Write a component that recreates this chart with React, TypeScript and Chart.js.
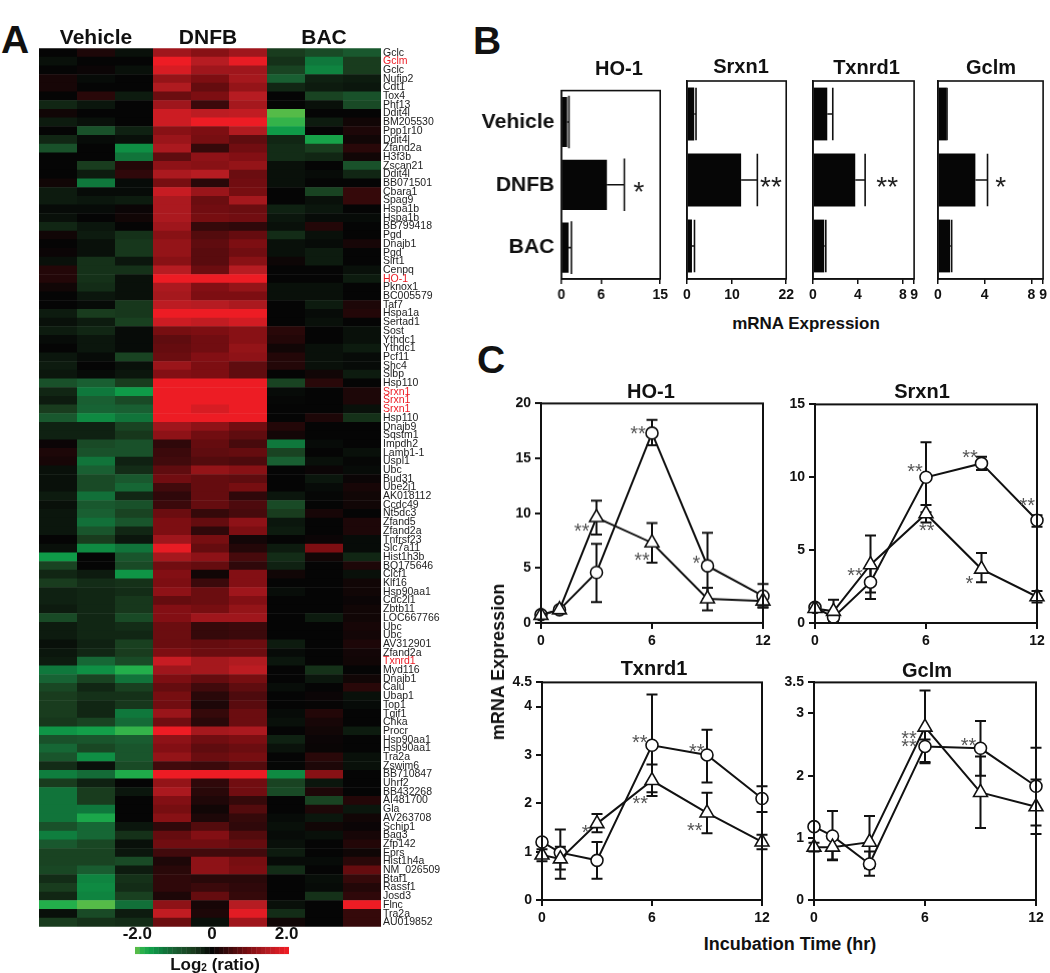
import React, { useEffect, useRef } from "react";
import { Chart, registerables } from "chart.js";

Chart.register(...registerables);

const FONT = '"Liberation Sans", Arial, sans-serif';

// ---------- Panel A ----------
const geneLabels = [
  "Gclc","Gclm","Gclc","Nufip2","Cdt1","Tox4","Phf13","Ddit4l","BM205530","Ppp1r10","Ddit4l","Zfand2a","H3f3b","Zscan21","Ddit4l","BB071501","Cbara1","Spag9","Hspa1b","Hspa1b","BB799418","Pgd","Dnajb1","Pgd","Sirt1","Cenpq","HO-1","Pknox1","BC005579","Taf7","Hspa1a","Sertad1","Sost","Ythdc1","Ythdc1","Pcf11","Shc4","Slbp","Hsp110","Srxn1","Srxn1","Srxn1","Hsp110","Dnajb9","Sqstm1","Impdh2","Lamb1-1","Uspl1","Ubc","Bud31","Ube2j1","AK018112","Ccdc49","Nt5dc3","Zfand5","Zfand2a","Tnfrsf23","Slc7a11","Hist1h3b","BQ175646","Clcf1","Klf16","Hsp90aa1","Cdc2l1","Zbtb11","LOC667766","Ubc","Ubc","AV312901","Zfand2a","Txnrd1","Myd116","Dnajb1","Calu","Ubap1","Top1","Tgif1","Chka","Procr","Hsp90aa1","Hsp90aa1","Tra2a","Zswim6","BB710847","Uhrf2","BB432268","AI481700","Gla","AV263708","Schip1","Bag3","Zfp142","Eprs","Hist1h4a","NM_026509","Btaf1","Rassf1","Josd3","Flnc","Tra2a","AU019852",
];
const highlightedGenes = ["Gclm", "HO-1", "Srxn1", "Txnrd1"];
const sampleNames = ["Vehicle 1","Vehicle 2","Vehicle 3","DNFB 1","DNFB 2","DNFB 3","BAC 1","BAC 2","BAC 3"];
const heatValues = [
  [0,.2,-.1,1.3,1.1,1.3,-.5,-.7,-.9],
  [-.1,0,0,2,1.5,1.95,-.4,-1.3,-.5],
  [0,.05,-.1,1.8,1.3,1.3,-.6,-1.4,-.5],
  [.15,-.05,0,1.2,1,1.35,-1,-.25,-.2],
  [.15,0,0,1.45,.8,1.2,-.3,-.2,-.15],
  [0,.3,-.2,.85,1,1.5,0,-.6,-.8],
  [-.3,-.15,0,1.3,.45,1.35,0,-.1,-.7],
  [.1,0,0,1.7,1.55,1.6,-2,0,0],
  [-.2,-.1,0,1.7,2,2,-1.9,-.2,.1],
  [0,-.8,-.25,1.1,1,1.45,-1.6,0,.2],
  [-.3,-.05,-.1,1.25,.95,.75,-.3,-1.7,.1],
  [-.8,0,-1.5,1.4,.4,.9,-.35,-.5,.3],
  [0,0,-1.25,.75,1.15,1.05,-.35,-.3,.1],
  [0,-.5,.25,1.15,1.1,1.2,-.1,0,-.8],
  [0,-.2,.35,1.4,1.5,.85,-.1,-.05,-.3],
  [.1,-1.3,-.05,.95,.3,.9,-.1,0,0],
  [-.2,-.05,-.05,1.65,1.25,.95,0,-.6,.4],
  [-.2,-.15,-.2,1.4,.85,1.35,0,-.1,.4],
  [-.05,-.05,.05,1.4,.9,.85,-.25,-.15,0],
  [-.1,0,.1,1.4,.95,.9,-.15,-.05,-.05],
  [-.3,-.15,0,1.3,.4,.35,-.1,.25,0],
  [.1,-.2,-.4,1.1,.65,.8,-.35,-.1,0],
  [0,-.1,-.45,1.2,.75,1,-.1,-.05,.15],
  [.05,-.1,-.45,1.2,.7,.9,-.1,-.2,0],
  [-.1,-.4,-.15,1.1,.7,1.1,.07,-.2,0],
  [.25,-.4,-.4,1.5,.85,1.5,0,0,-.1],
  [.25,-.4,-.1,2,2,2,0,0,-.2],
  [.1,-.35,-.1,1.4,1.05,1.2,-.1,-.1,0],
  [0,-.15,-.1,1.35,1,1,-.1,-.1,0],
  [0,-.05,-.45,1.55,1.5,1.4,0,-.2,.2],
  [-.2,-.5,-.45,2,2,2,0,-.05,.25],
  [-.1,-.2,-.55,1.7,1.6,1.75,0,-.1,0],
  [-.2,-.3,-.05,.95,1,1.1,.3,0,-.1],
  [-.05,-.15,-.05,.75,.9,1.1,.25,0,-.1],
  [0,-.15,-.05,.8,.9,1.2,.1,-.1,-.2],
  [-.15,-.05,-.6,.85,1.05,1.15,.25,-.1,-.05],
  [-.2,0,-.1,1.25,1,.75,.25,-.1,-.05],
  [-.15,-.05,-.15,1.05,1,.75,0,.1,-.2],
  [-.8,-1,-.5,2,2,2,-.6,.3,0],
  [-.3,-1.3,-1.6,2,2,2,-.05,0,.2],
  [-.2,-1,-.7,2,2,2,-.02,0,.2],
  [-.5,-1.05,-1,2,1.8,2,0,0,-.1],
  [-.9,-1.45,-1.25,2,2,2,0,.2,-.4],
  [-.25,-.25,-.6,1.3,1.15,.9,.25,0,0],
  [-.25,-.25,-.45,1.15,.9,.75,.12,0,0],
  [.05,-.7,-.8,.35,.8,.55,-1.3,-.05,0],
  [.2,-.8,-.8,.45,.75,.8,-.6,0,-.1],
  [.15,-1.25,-.25,.5,.65,.6,-1,-.1,-.02],
  [-.1,-1,-.35,.75,1.2,1.1,0,.05,-.05],
  [-.1,-.7,-.9,.9,.8,.75,0,-.15,.05],
  [-.1,-.7,-1.1,.5,.8,.95,0,-.05,.15],
  [-.2,-1.2,-.3,.35,.8,.35,-.15,-.02,.1],
  [-.1,-.9,-.8,.45,.8,.6,-.7,0,.1],
  [-.15,-1,-.6,.85,.4,.55,-.5,.15,0],
  [-.15,-1.2,-.85,1,.8,1.15,-.15,0,.2],
  [-.15,-.85,-.3,1,.35,1,-.2,0,.2],
  [0,-.5,-.15,1.3,.95,.12,0,.05,-.05],
  [-.1,-1.45,-1.25,1.95,.8,.25,-.2,1,-.05],
  [-1.6,0,-.85,1.35,1.15,.55,-.35,.1,-.3],
  [-.6,0,-.7,.9,.8,.35,-.25,0,.2],
  [-.3,-.2,-1.55,1.05,.1,1.05,.1,0,-.1],
  [-.5,-.35,-.4,1,.45,1.05,0,0,.1],
  [-.25,-.3,-.35,1.15,.85,1.3,-.07,0,.1],
  [-.25,-.3,-.45,.8,.85,1.05,0,0,.05],
  [-.2,-.3,-.45,1.05,.95,1.2,0,0,.1],
  [-.7,-.3,-.7,1.05,1.3,1.3,0,-.2,.1],
  [-.2,-.3,-.35,.85,.4,.45,0,0,.15],
  [-.2,-.3,-.3,.85,.4,.45,0,0,.12],
  [-.1,-.25,-.55,.85,.8,.85,-.2,0,.2],
  [-.15,-.3,-.5,1,.85,.85,-.05,0,.12],
  [-.2,-1.1,-.7,1.65,1.35,1.45,-.15,0,.1],
  [-1.3,-1.5,-1.85,1.3,1.35,1.55,0,-.4,0],
  [-1.05,-.6,-1.25,1,.8,.95,0,-.15,.1],
  [-.65,-.3,-.55,.8,.5,.75,-.07,0,.3],
  [-.5,-.4,-.4,.95,.3,.6,0,.05,-.1],
  [-.5,-.3,-.45,.9,.2,.7,0,.02,-.05],
  [-.5,-.3,-1.3,1.25,.4,.85,-.05,.25,0],
  [-.45,-.6,-1.15,.9,.3,.85,-.1,.15,0],
  [-1.55,-1.65,-1.9,2,1.35,1.4,0,.1,-.2],
  [-.8,-.85,-.95,1.15,.9,1,-.25,.05,0],
  [-1.1,-.65,-.85,1.05,.75,.85,-.12,.03,0],
  [-.85,-1.5,-.85,1.2,.85,.95,0,.3,-.1],
  [-.35,-.1,-.7,.5,.45,.65,-.02,.2,-.1],
  [-1.35,-1.15,-1.8,2,2,2,-1.45,1.1,0],
  [-.5,-.25,0,1.2,.35,.9,-.6,-.15,0],
  [-1.25,-.5,-.15,1.4,.3,.9,-.7,.2,0],
  [-1.25,-.5,0,1.05,.22,.4,0,-.6,.25],
  [-1.25,-1.3,0,.95,.1,.65,0,.2,-.15],
  [-1.25,-1.75,0,1.1,.2,.4,-.05,-.15,.1],
  [-.8,-1.1,-.15,.35,.65,.35,-.1,.1,.05],
  [-1.35,-1.1,-.4,.8,1.05,.65,-.05,-.1,.15],
  [-.9,-.65,-.1,.9,.9,.8,-.1,0,.25],
  [-.6,-.6,-.15,.5,.5,.5,-.2,0,.08],
  [-.6,-.6,-.7,.2,1.15,.95,-.05,-.05,.3],
  [-.65,-.95,-.2,.3,1.15,1,-.35,0,.8],
  [-.35,-1.4,-.4,.35,.3,.3,0,-.08,.4],
  [-.5,-1.45,-.35,.35,.45,.35,0,-.05,.25],
  [-.3,-1.4,-.55,.2,.8,.4,0,-.4,.35],
  [-1.85,-2,-1.2,1.15,.15,1.5,-.1,0,2],
  [-.1,-.7,-.2,1.6,.2,1.9,-.35,0,.4],
  [-.5,-.4,-.35,.85,-.1,1.3,.1,0,.4],
];
const colorbarLevels = [
  -2,-1.875,-1.75,-1.625,-1.5,-1.375,-1.25,-1.125,-1,-.875,-.75,-.625,-.5,-.375,-.25,-.125,0,
  .125,.25,.375,.5,.625,.75,.875,1,1.125,1.25,1.375,1.5,1.625,1.75,1.875,2,
];
const colorbarTickLabels: Record<string, string> = { "-2": "-2.0", "0": "0", "2": "2.0" };

// ---------- Panel B ----------
const barGroups = ["Vehicle", "DNFB", "BAC"];
const barHo1 = [0.86, 6.9, 1.08];
const barHo1Err = [1.13, 9.55, 1.5];
const barSrxn1 = [1.6, 12, 1.1];
const barSrxn1Err = [2.0, 15.6, 1.66];
const barTxnrd1 = [1.27, 3.76, 1.0];
const barTxnrd1Err = [1.76, 4.64, 1.14];
const barGclm = [0.73, 3.2, 1.04];
const barGclmErr = [0.77, 4.24, 1.17];

// ---------- Panel C ----------
const hours = [0, 1, 3, 6, 9, 12];
const hoDnfb = [0.75, 1.2, 4.6, 17.3, 5.2, 2.45];
const hoDnfbUp = [0.95, 1.45, 7.2, 18.5, 8.2, 3.55];
const hoDnfbLo = [0.55, 0.95, 1.9, 16.2, 2.2, 1.45];
const hoBac = [0.7, 1.2, 9.6, 7.3, 2.2, 2.0];
const hoBacUp = [0.9, 1.4, 11.15, 9.1, 3.2, 2.6];
const hoBacLo = [0.5, 1.0, 8.05, 5.5, 1.15, 1.4];

const srDnfb = [1.07, 0.4, 2.8, 10.0, 10.95, 7.05];
const srDnfbUp = [1.25, 0.7, 3.95, 12.4, 11.4, 7.4];
const srDnfbLo = [0.9, 0.1, 1.65, 7.6, 10.5, 6.6];
const srBac = [1.0, 0.8, 4.0, 7.5, 3.7, 1.8];
const srBacUp = [1.2, 1.6, 6.0, 8.1, 4.8, 2.2];
const srBacLo = [0.8, 0.2, 2.1, 6.9, 2.8, 1.4];

const txDnfb = [1.2, 0.98, 0.82, 3.2, 3.0, 2.1];
const txDnfbUp = [1.25, 1.46, 1.2, 4.25, 3.52, 2.35];
const txDnfbLo = [1.15, 0.63, 0.44, 2.15, 2.43, 1.82];
const txBac = [0.93, 0.85, 1.58, 2.47, 1.8, 1.2];
const txBacUp = [1.05, 1.1, 1.78, 2.8, 2.22, 1.35];
const txBacLo = [0.8, 0.44, 1.4, 2.23, 1.38, 1.05];

const gcDnfb = [1.18, 1.03, 0.58, 2.47, 2.44, 1.83];
const gcDnfbUp = [1.22, 1.43, 0.78, 2.58, 2.88, 1.94];
const gcDnfbLo = [1.14, 0.64, 0.39, 2.22, 2.0, 1.2];
const gcBac = [0.85, 0.85, 0.93, 2.78, 1.73, 1.5];
const gcBacUp = [0.92, 0.98, 1.35, 3.37, 2.31, 2.45];
const gcBacLo = [0.78, 0.65, 0.51, 2.2, 1.16, 1.06];

type Star = [number, number, string];
const hoStars: Star[] = [[5.24, 17.7, "**"], [2.2, 8.8, "**"], [5.46, 6.2, "**"], [8.4, 5.85, "*"]];
const srStars: Star[] = [[5.41, 10.7, "**"], [8.38, 11.7, "**"], [11.47, 8.38, "**"], [6.04, 6.65, "**"], [8.35, 3.08, "*"], [2.16, 3.6, "**"]];
const txStars: Star[] = [[5.33, 3.36, "**"], [8.44, 3.18, "**"], [5.36, 2.09, "**"], [8.33, 1.54, "**"], [2.38, 1.5, "*"]];
const gcStars: Star[] = [[5.14, 2.68, "**"], [5.14, 2.54, "**"], [8.35, 2.57, "**"]];

// ---------- helpers ----------
const lerp = (stops: number[][], t: number) => {
  for (let i = 1; i < stops.length; i++) {
    if (t <= stops[i][0]) {
      const a = stops[i - 1], b = stops[i];
      const f = (t - a[0]) / (b[0] - a[0] || 1);
      return `rgb(${[1, 2, 3].map((k) => Math.round(a[k] + (b[k] - a[k]) * f)).join(",")})`;
    }
  }
  const l = stops[stops.length - 1];
  return `rgb(${l[1]},${l[2]},${l[3]})`;
};
const redStops = [[0, 5, 5, 5], [1, 125, 14, 18], [1.5, 182, 28, 34], [2, 237, 28, 36]];
const greenStops = [[0, 5, 5, 5], [0.5, 25, 60, 30], [1, 25, 95, 50], [1.3, 15, 120, 60], [1.6, 15, 155, 72], [1.85, 35, 175, 75], [2, 85, 187, 72]];
const heatColor = (v: number) => (v >= 0 ? lerp(redStops, v) : lerp(greenStops, -v));

const framePlugin = {
  id: "frame",
  afterDatasetsDraw(chart: any, _a: any, o: any) {
    if (!o.width) return;
    const { left, top, width, height } = chart.chartArea;
    const c = chart.ctx;
    c.save();
    c.strokeStyle = "#111";
    c.lineWidth = o.width;
    c.strokeRect(left, top, width, height);
    c.restore();
  },
};
const errorPlugin = {
  id: "errs",
  beforeDatasetsDraw(chart: any, _a: any, o: any) {
    if (!o.series) return;
    const c = chart.ctx, sx = chart.scales.x, sy = chart.scales.y;
    c.save();
    c.strokeStyle = "#111";
    c.lineWidth = 2;
    o.series.forEach((s: any) => {
      s.up.forEach((u: number, i: number) => {
        const x = sx.getPixelForValue(hours[i]);
        const a = sy.getPixelForValue(u), b = sy.getPixelForValue(s.lo[i]);
        c.beginPath();
        c.moveTo(x, a); c.lineTo(x, b);
        c.moveTo(x - 5.5, a); c.lineTo(x + 5.5, a);
        c.moveTo(x - 5.5, b); c.lineTo(x + 5.5, b);
        c.stroke();
      });
    });
    c.restore();
  },
};
const barErrorPlugin = {
  id: "barErrs",
  afterDatasetsDraw(chart: any, _a: any, o: any) {
    if (!o.err) return;
    const c = chart.ctx, sx = chart.scales.x, sy = chart.scales.y;
    c.save();
    c.strokeStyle = "#111";
    c.lineWidth = 1.6;
    o.err.forEach((e: number, i: number) => {
      const y = sy.getPixelForValue(i);
      const x0 = sx.getPixelForValue(o.val[i]), x1 = sx.getPixelForValue(e);
      c.beginPath();
      c.moveTo(x0, y); c.lineTo(x1, y);
      c.moveTo(x1, y - 26.3); c.lineTo(x1, y + 26.3);
      c.stroke();
    });
    c.restore();
  },
};
const starPlugin = {
  id: "stars",
  afterDatasetsDraw(chart: any, _a: any, o: any) {
    if (!o.list) return;
    const c = chart.ctx, sx = chart.scales.x, sy = chart.scales.y;
    c.save();
    c.fillStyle = o.color;
    c.font = `${o.size}px ${FONT}`;
    c.textAlign = "center";
    c.textBaseline = "alphabetic";
    o.list.forEach((s: Star) => {
      const y = o.categorical ? sy.getPixelForValue(s[1]) : sy.getPixelForValue(s[1]);
      c.fillText(s[2], sx.getPixelForValue(s[0]), y + 0.57 * o.size);
    });
    c.restore();
  },
};

type Box = { left: number; top: number; width: number; height: number };
type Item = { box: Box; config: any };

function ChartCanvas({ box, config }: Item) {
  const ref = useRef<HTMLCanvasElement>(null);
  useEffect(() => {
    const chart = new Chart(ref.current as HTMLCanvasElement, config);
    return () => chart.destroy();
  }, []);
  return (
    <canvas
      ref={ref}
      width={box.width}
      height={box.height}
      style={{ position: "absolute", left: box.left, top: box.top, width: box.width, height: box.height }}
    />
  );
}

const base = { responsive: false, animation: false, devicePixelRatio: 1 } as const;
const noLegend = { legend: { display: false }, title: { display: false }, tooltip: { enabled: false } };

function heatmapItem(): Item {
  const box = { left: 30, top: 40, width: 415, height: 895 };
  const config = {
    type: "bar",
    data: {
      labels: geneLabels,
      datasets: sampleNames.map((name, c) => ({
        label: name,
        data: heatValues.map(() => [c, c + 1]),
        backgroundColor: heatValues.map((r) => heatColor(r[c])),
        borderWidth: 0,
        grouped: false,
        barPercentage: 1.06,
        categoryPercentage: 1,
      })),
    },
    options: {
      ...base,
      indexAxis: "y",
      layout: { padding: { left: 9, top: 8, right: 0, bottom: 6.3 } },
      plugins: noLegend,
      scales: {
        x: { type: "linear", min: 0, max: 9, display: false },
        y: {
          position: "right",
          afterFit: (s: any) => { s.width = 64; },
          grid: { display: false, drawTicks: false },
          border: { display: false },
          ticks: {
            autoSkip: false,
            padding: 2,
            font: { family: FONT, size: 10.5 },
            color: (ctx: any) => (highlightedGenes.includes(geneLabels[ctx.index]) ? "#ed1c24" : "#222"),
          },
        },
      },
    },
  };
  return { box, config };
}

function colorbarItem(): Item {
  const box = { left: 100, top: 925, width: 225, height: 30 };
  const config = {
    type: "bar",
    data: {
      labels: colorbarLevels.map(String),
      datasets: [{
        data: colorbarLevels.map(() => [0, 1]),
        backgroundColor: colorbarLevels.map(heatColor),
        borderWidth: 0,
        barPercentage: 1.08,
        categoryPercentage: 1,
      }],
    },
    options: {
      ...base,
      layout: { padding: { left: 35, right: 36, top: 0, bottom: 0.7 } },
      plugins: noLegend,
      scales: {
        y: { min: 0, max: 1, display: false },
        x: {
          position: "top",
          afterFit: (s: any) => { s.height = 21.7; },
          grid: { display: false, drawTicks: false },
          border: { display: false },
          ticks: {
            autoSkip: false,
            maxRotation: 0,
            padding: 2,
            color: "#111",
            font: { family: FONT, size: 17, weight: "bold" },
            callback: (_v: any, i: number) => colorbarTickLabels[String(colorbarLevels[i])] ?? null,
          },
        },
      },
    },
  };
  return { box, config };
}

function barItem(l: number, r: number, max: number, step: number, vals: number[], errs: number[], stars: Star[], showLabels: boolean): Item {
  const ml = showLabels ? 100 : 20;
  const t = 81, b = 279, mt = 10, mb = 28, mr = 2;
  const box = { left: l - ml, top: t - mt, width: r - l + ml + mr, height: b - t + mt + mb };
  const config = {
    type: "bar",
    data: {
      labels: barGroups,
      datasets: [{ data: vals, backgroundColor: "#060606", borderWidth: 0, barPercentage: 0.8, categoryPercentage: 1 }],
    },
    options: {
      ...base,
      indexAxis: "y",
      layout: { padding: { top: mt, right: mr, left: 0, bottom: 0 } },
      plugins: {
        ...noLegend,
        frame: { width: 1.6 },
        barErrs: { err: errs, val: vals },
        stars: { list: stars, size: 28, color: "#222" },
      },
      scales: {
        x: {
          type: "linear",
          min: 0,
          max,
          afterFit: (s: any) => { s.height = mb; },
          grid: { drawOnChartArea: false, color: "#111", lineWidth: 1.5, tickLength: 5 },
          border: { color: "#111", width: 1.5 },
          ticks: { stepSize: step, padding: 3, maxRotation: 0, color: "#111", font: { family: FONT, size: 14, weight: "bold" } },
        },
        y: {
          afterFit: (s: any) => { s.width = ml; },
          grid: { display: false, drawTicks: false },
          border: { color: "#111", width: 1.5 },
          ticks: {
            display: showLabels,
            padding: 7,
            color: "#111",
            font: { family: FONT, size: 21, weight: "bold" },
          },
        },
      },
    },
  };
  return { box, config };
}

function lineItem(
  l: number, r: number, t: number, b: number, ymax: number, step: number,
  dnfb: number[], dUp: number[], dLo: number[], bac: number[], bUp: number[], bLo: number[], stars: Star[],
): Item {
  const ml = 40, mr = 24, mt = 12, mb = 28;
  const box = { left: l - ml, top: t - mt, width: r - l + ml + mr, height: b - t + mt + mb };
  const ds = (label: string, y: number[], style: string, radius: number, order: number) => ({
    label,
    data: hours.map((h, i) => ({ x: h, y: y[i] })),
    borderColor: "#111",
    borderWidth: 2,
    tension: 0,
    clip: false,
    pointStyle: style,
    pointRadius: radius,
    pointBorderWidth: 1.6,
    pointBorderColor: "#111",
    pointBackgroundColor: "#fff",
    order,
  });
  const config = {
    type: "line",
    data: {
      datasets: [ds("DNFB", dnfb, "circle", 6, 2), ds("BAC", bac, "triangle", 8, 1)],
    },
    options: {
      ...base,
      layout: { padding: { top: mt, right: mr, left: 0, bottom: 0 } },
      plugins: {
        ...noLegend,
        frame: { width: 2 },
        errs: { series: [{ up: dUp, lo: dLo }, { up: bUp, lo: bLo }] },
        stars: { list: stars, size: 20, color: "#555" },
      },
      scales: {
        x: {
          type: "linear",
          min: 0,
          max: 12,
          afterFit: (s: any) => { s.height = mb; },
          grid: { drawOnChartArea: false, color: "#111", lineWidth: 2, tickLength: 6 },
          border: { color: "#111", width: 2 },
          ticks: { stepSize: 6, padding: 4, maxRotation: 0, color: "#111", font: { family: FONT, size: 14, weight: "bold" } },
        },
        y: {
          type: "linear",
          min: 0,
          max: ymax,
          afterFit: (s: any) => { s.width = ml; },
          grid: { drawOnChartArea: false, color: "#111", lineWidth: 2, tickLength: 6 },
          border: { color: "#111", width: 2 },
          ticks: { stepSize: step, padding: 4, color: "#111", font: { family: FONT, size: 14, weight: "bold" } },
        },
      },
    },
  };
  return { box, config };
}

const items: Item[] = [
  heatmapItem(),
  colorbarItem(),
  barItem(561.4, 669.2, 15, 6, barHo1, barHo1Err, [[11.75, 1, "*"]], true),
  barItem(687, 795.3, 22, 10, barSrxn1, barSrxn1Err, [[18.6, 1, "**"]], false),
  barItem(812.8, 919.4, 9, 4, barTxnrd1, barTxnrd1Err, [[6.6, 1, "**"]], false),
  barItem(937.7, 1048, 9, 4, barGclm, barGclmErr, [[5.36, 1, "*"]], false),
  lineItem(541, 763, 403.3, 623.3, 20, 5, hoDnfb, hoDnfbUp, hoDnfbLo, hoBac, hoBacUp, hoBacLo, hoStars),
  lineItem(814.7, 1037, 404, 623.3, 15, 5, srDnfb, srDnfbUp, srDnfbLo, srBac, srBacUp, srBacLo, srStars),
  lineItem(542.3, 762.3, 681.7, 899.7, 4.5, 1, txDnfb, txDnfbUp, txDnfbLo, txBac, txBacUp, txBacLo, txStars),
  lineItem(813.7, 1036, 681.7, 899.7, 3.5, 1, gcDnfb, gcDnfbUp, gcDnfbLo, gcBac, gcBacUp, gcBacLo, gcStars),
];

Chart.register(framePlugin, errorPlugin, barErrorPlugin, starPlugin);

function Label({ x, y, size, rotate, children }: { x: number; y: number; size: number; rotate?: boolean; children: React.ReactNode }) {
  return (
    <div
      style={{
        position: "absolute",
        left: x,
        top: y,
        transform: `translate(-50%,-50%)${rotate ? " rotate(-90deg)" : ""}`,
        font: `bold ${size}px ${FONT}`,
        color: "#111",
        whiteSpace: "nowrap",
        lineHeight: 1,
      }}
    >
      {children}
    </div>
  );
}

export default function App() {
  return (
    <div style={{ position: "absolute", left: 0, top: 0, width: 1050, height: 973, overflow: "hidden", background: "#fff" }}>
      {items.map((it, i) => (
        <ChartCanvas key={i} box={it.box} config={it.config} />
      ))}
      <Label x={15} y={39} size={39}>A</Label>
      <Label x={487} y={40} size={39}>B</Label>
      <Label x={491} y={359} size={39}>C</Label>
      <Label x={96} y={36} size={21}>Vehicle</Label>
      <Label x={208} y={36} size={21}>DNFB</Label>
      <Label x={324} y={36} size={21}>BAC</Label>
      <Label x={215} y={964} size={17}>
        Log<span style={{ fontSize: 10, verticalAlign: -1 }}>2</span> (ratio)
      </Label>
      <Label x={619} y={68} size={20}>HO-1</Label>
      <Label x={741} y={66} size={20}>Srxn1</Label>
      <Label x={866.5} y={67} size={20}>Txnrd1</Label>
      <Label x={991} y={67} size={20}>Gclm</Label>
      <Label x={806} y={323} size={17}>mRNA Expression</Label>
      <Label x={651} y={391} size={20}>HO-1</Label>
      <Label x={922} y={391} size={20}>Srxn1</Label>
      <Label x={654} y={668} size={20}>Txnrd1</Label>
      <Label x={927} y={670} size={20}>Gclm</Label>
      <Label x={498} y={662} size={18} rotate>mRNA Expression</Label>
      <Label x={790} y={944} size={18}>Incubation Time (hr)</Label>
    </div>
  );
}
